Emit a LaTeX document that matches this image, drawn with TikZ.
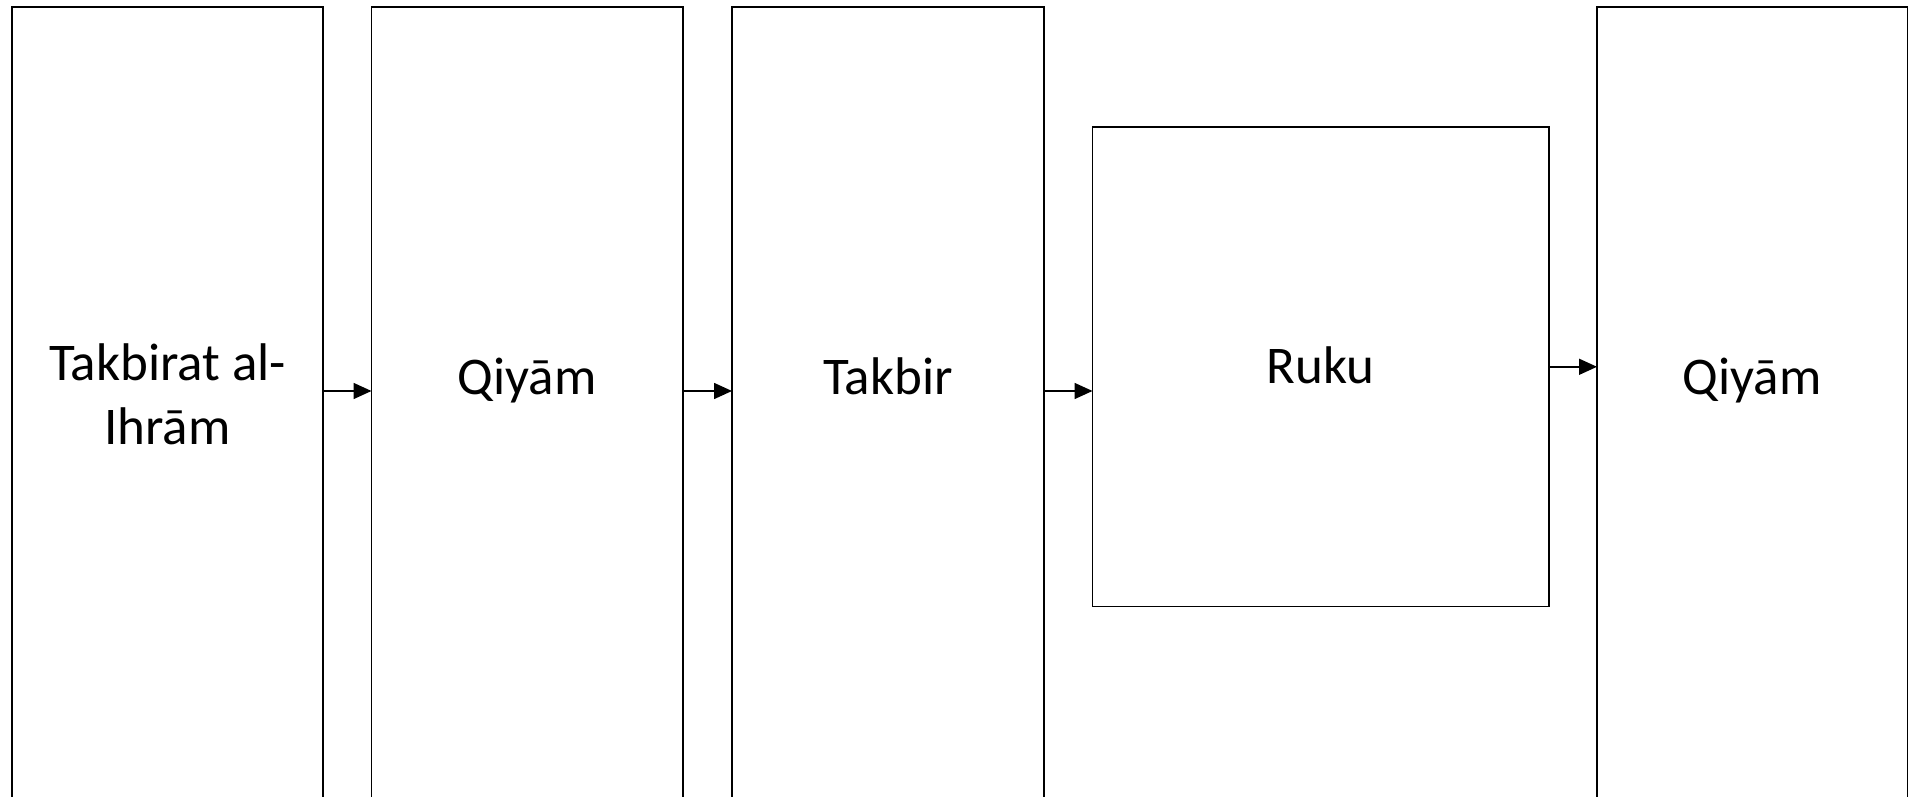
\documentclass[tikz,border=0pt]{standalone}
\usepackage{fontspec}
\setmainfont{Carlito}
\usetikzlibrary{arrows.meta}
\begin{document}
\begin{tikzpicture}[x=1pt,y=1pt,
  box/.style={draw=black,line width=1.6pt,fill=none,inner sep=0pt,outer sep=0pt},
  lbl/.style={font=\fontsize{53}{64}\selectfont,anchor=base,inner sep=0pt},
  arr/.style={line width=1.6pt,-{Triangle[length=18pt,width=16pt]}}]
\useasboundingbox (0,0) rectangle (1910,797);
\clip (0,0) rectangle (1910,797);
% tall boxes extending past the bottom edge
\node[box,minimum width=311pt,minimum height=900pt] (b1) at (167.5,340) {};
\node[box,minimum width=311.5pt,minimum height=900pt] (b2) at (527.25,340) {};
\node[box,minimum width=312pt,minimum height=900pt] (b3) at (888,340) {};
\node[box,minimum width=456.5pt,minimum height=479.6pt] (ruku) at (1320.75,430.2) {};
\node[box,minimum width=310.5pt,minimum height=900pt] (b5) at (1752.25,340) {};
\coordinate (ay) at (0,406);
% labels
\node[lbl] (t1a) at (167.5,416) {Takbirat al-};
\node[lbl] (t1b) at (167.5,352) {Ihrām};
\node[lbl] (t2) at (527.25,402) {Qiyām};
\node[lbl] (t3) at (888,402) {Takbir};
\node[lbl] (t4) at (1320.75,413) {Ruku};
\node[lbl] (t5) at (1752.25,402) {Qiyām};
% arrows
\draw[arr] (b1.east |- ay) -- (b2.west |- ay);
\draw[arr] (b2.east |- ay) -- (b3.west |- ay);
\draw[arr] (b3.east |- ay) -- (ruku.west |- ay);
\draw[arr] (ruku.east) -- (b5.west |- ruku.east);
\end{tikzpicture}
\end{document}
